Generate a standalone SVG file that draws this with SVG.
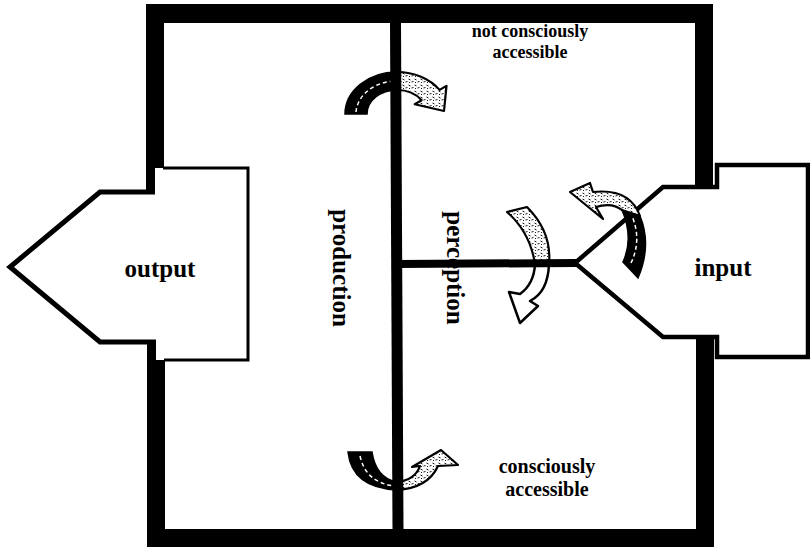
<svg xmlns="http://www.w3.org/2000/svg" width="810" height="550" viewBox="0 0 810 550">
<defs>
<pattern id="tex" width="6" height="6" patternUnits="userSpaceOnUse">
<rect width="6" height="6" fill="#fff"/>
<path d="M0.5,1 L2.5,2 M3.5,4 L5.5,3.5 M1,5 L2,4" stroke="#000" stroke-width="0.9" fill="none"/>
</pattern>
</defs>
<style>
.wall{fill:#000}
.ln{fill:none;stroke:#000;stroke-linejoin:miter}
.dark{fill:#000;stroke:#000;stroke-width:1.5}
.light{fill:url(#tex);stroke:#000;stroke-width:2.2;stroke-linejoin:round}
.white{fill:#fff;stroke:#000;stroke-width:2.5;stroke-linejoin:round}
.dash{fill:none;stroke:#fff;stroke-width:1.5;stroke-dasharray:4 3}
.lbl{font-family:"Liberation Serif","Times New Roman",serif;font-weight:bold;fill:#000}
</style>
<rect width="810" height="550" fill="#fff"/>
<g id="output">
<path class="ln" d="M155,192 L100,192 L10,267 L100,342 L156,342" stroke-width="5"/>
<path class="ln" d="M163,168 L248,168 L248,360 L164,360" stroke-width="3"/>
<text class="lbl" x="160" y="277" font-size="25" text-anchor="middle">output</text>
</g>
<g id="input">
<path class="ln" d="M717,187 L663,187 L575,263 L663,337 L717,337 L717,357 L808,357 L808,165 L717,165 Z" stroke-width="4.5"/>
<text class="lbl" x="723" y="276" font-size="25" text-anchor="middle">input</text>
</g>
<g id="arrows">
<path class="dark" d="M345,114 A52,42 0 0 1 397,72 L397,90 A30,24 0 0 0 367,114 Z"/>
<path class="dash" d="M356,112 A41,33 0 0 1 395,81"/>
<path class="light" d="M397,72 A52,42 0 0 1 439.6,89.9 L446.5,85.9 L444,111 L414.7,104.2 L421.6,100.2 A30,24 0 0 0 397,90 Z"/>
<path class="dark" d="M348,452 Q352,488 397,490 L397,482 Q376,478 372,452 Z"/>
<path class="dash" d="M360,456 Q366,483 395,486"/>
<path class="light" d="M397,490 Q428,488 438,466 L458,465 L441,450 L412,467 L420,466 Q415,480 397,482 Z"/>
<path class="light" d="M507,212 L527,207 Q552,232 549,264 L535,264 Q530,232 507,212 Z"/>
<path class="white" d="M549,264 Q548,292 530,301 L538,306 L520,323 L509,292 L520,294 Q534,284 535,264 Z"/>
<path class="dark" d="M623,262 L638,278 Q652,245 640,216 L622,210 Q634,238 623,262 Z"/>
<path class="dash" d="M631,263 Q642,240 632,216"/>
<path class="light" d="M622,210 L640,216 Q630,188 593,192 L590,183 L570,192 L603,219 L596,207 Q612,202 622,210 Z"/>
</g>
<g id="frame">
<rect class="wall" x="146" y="4" width="567" height="19"/>
<rect class="wall" x="147" y="529" width="567" height="18"/>
<rect class="wall" x="146" y="4" width="18" height="164"/>
<rect class="wall" x="146" y="168" width="9" height="24"/>
<rect class="wall" x="147" y="342" width="9" height="18"/>
<rect class="wall" x="147" y="360" width="18" height="187"/>
<rect class="wall" x="695" y="4" width="18" height="183"/>
<rect class="wall" x="696" y="336" width="18" height="211"/>
</g>
<g id="connectors">
<path class="ln" d="M395.5,23 L398,529" stroke-width="11"/>
<path class="ln" d="M398,264 L576,263" stroke-width="8"/>
</g>
<g id="labels">
<text class="lbl" x="530" y="37" font-size="18" text-anchor="middle">not consciously</text>
<text class="lbl" x="530" y="58" font-size="18" text-anchor="middle">accessible</text>
<text class="lbl" x="547" y="473" font-size="20" text-anchor="middle">consciously</text>
<text class="lbl" x="547" y="496" font-size="20" text-anchor="middle">accessible</text>
<text class="lbl" font-size="25" text-anchor="middle" transform="translate(333,268) rotate(90)">production</text>
<text class="lbl" font-size="25" text-anchor="middle" transform="translate(447,268) rotate(90)">perception</text>
</g>
</svg>
